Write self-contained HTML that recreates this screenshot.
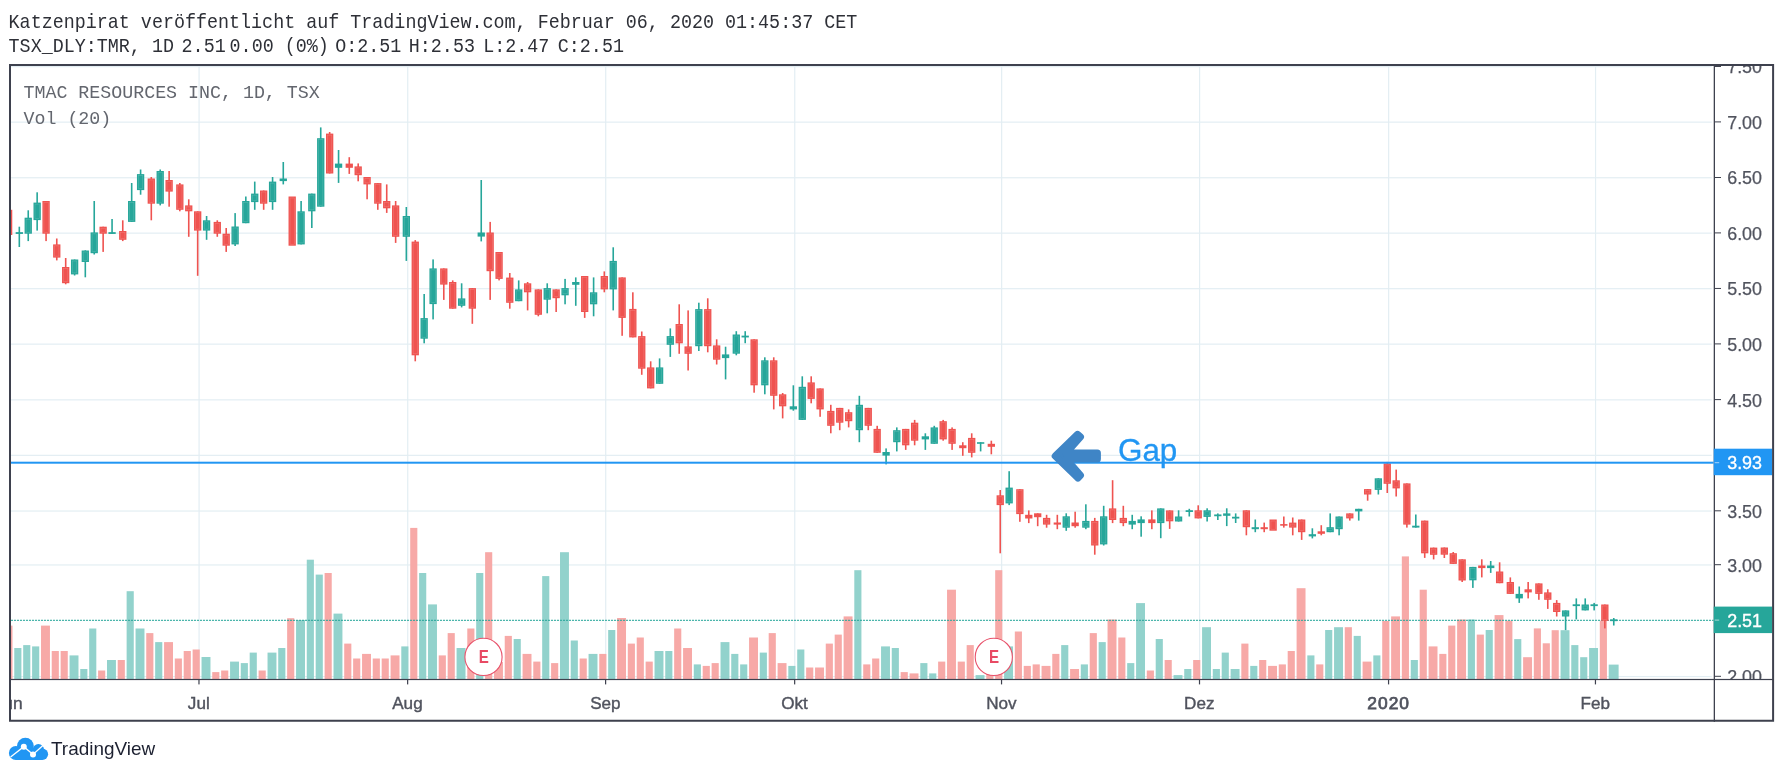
<!DOCTYPE html><html><head><meta charset="utf-8"><style>html,body{margin:0;padding:0;background:#fff}svg{will-change:transform}body{width:1783px;height:776px;position:relative;overflow:hidden;font-family:"Liberation Sans",sans-serif}</style></head><body><svg width="1783" height="776" viewBox="0 0 1783 776" style="position:absolute;left:0;top:0">
<defs><clipPath id="pane"><rect x="11" y="66" width="1702.7" height="613"/></clipPath></defs>
<g fill="#e3eef3">
<rect x="11" y="66.05" width="1700.7" height="1.2"/>
<rect x="11" y="121.55" width="1700.7" height="1.2"/>
<rect x="11" y="177.15" width="1700.7" height="1.2"/>
<rect x="11" y="232.55" width="1700.7" height="1.2"/>
<rect x="11" y="288.1" width="1700.7" height="1.2"/>
<rect x="11" y="343.55" width="1700.7" height="1.2"/>
<rect x="11" y="399.25" width="1700.7" height="1.2"/>
<rect x="11" y="454.75" width="1700.7" height="1.2"/>
<rect x="11" y="510.45" width="1700.7" height="1.2"/>
<rect x="11" y="564.35" width="1700.7" height="1.2"/>
<rect x="11" y="675.95" width="1700.7" height="1.2"/>
<rect x="198.47" y="66" width="1.2" height="613"/>
<rect x="407.14" y="66" width="1.2" height="613"/>
<rect x="605.11" y="66" width="1.2" height="613"/>
<rect x="794.16" y="66" width="1.2" height="613"/>
<rect x="1001.04" y="66" width="1.2" height="613"/>
<rect x="1199.01" y="66" width="1.2" height="613"/>
<rect x="1388.06" y="66" width="1.2" height="613"/>
<rect x="1594.95" y="66" width="1.2" height="613"/>
</g>
<g clip-path="url(#pane)">
<g fill="#92d2cc"><rect x="14.27" y="648" width="7.13" height="32"/><rect x="23.19" y="645.1" width="7.13" height="34.9"/><rect x="32.1" y="646.4" width="7.13" height="33.6"/><rect x="69.56" y="655.4" width="8.92" height="24.6"/><rect x="80.26" y="669" width="7.13" height="11"/><rect x="89.18" y="628.5" width="7.13" height="51.5"/><rect x="107.01" y="660" width="8.92" height="20"/><rect x="126.63" y="591.2" width="7.13" height="88.8"/><rect x="135.55" y="628.5" width="8.92" height="51.5"/><rect x="155.16" y="642.1" width="7.13" height="37.9"/><rect x="201.54" y="657" width="8.92" height="23"/><rect x="230.07" y="661.6" width="8.92" height="18.4"/><rect x="240.77" y="663.1" width="7.13" height="16.9"/><rect x="249.69" y="652.6" width="7.13" height="27.4"/><rect x="267.53" y="652.6" width="8.92" height="27.4"/><rect x="278.23" y="648" width="7.13" height="32"/><rect x="296.06" y="620.1" width="8.92" height="59.9"/><rect x="306.76" y="559.7" width="7.13" height="120.3"/><rect x="315.68" y="574.6" width="7.13" height="105.4"/><rect x="333.51" y="613.6" width="8.92" height="66.4"/><rect x="401.29" y="646.4" width="7.13" height="33.6"/><rect x="419.12" y="573" width="7.13" height="107"/><rect x="428.04" y="604.4" width="8.92" height="75.6"/><rect x="456.58" y="648" width="8.92" height="32"/><rect x="476.19" y="573" width="7.13" height="107"/><rect x="513.65" y="639" width="7.13" height="41"/><rect x="542.18" y="576.1" width="7.13" height="103.9"/><rect x="560.02" y="552.2" width="8.92" height="127.8"/><rect x="570.72" y="640.5" width="7.13" height="39.5"/><rect x="588.56" y="653.9" width="8.92" height="26.1"/><rect x="608.17" y="630" width="7.13" height="50"/><rect x="654.54" y="651" width="8.92" height="29"/><rect x="665.25" y="651" width="7.13" height="29"/><rect x="693.78" y="664.4" width="7.13" height="15.6"/><rect x="720.53" y="642.1" width="8.92" height="37.9"/><rect x="731.24" y="653.9" width="7.13" height="26.1"/><rect x="740.15" y="664.4" width="7.13" height="15.6"/><rect x="759.77" y="652.6" width="7.13" height="27.4"/><rect x="788.31" y="665.9" width="7.13" height="14.1"/><rect x="797.22" y="649.5" width="7.13" height="30.5"/><rect x="854.3" y="570.2" width="7.13" height="109.8"/><rect x="881.05" y="646.4" width="8.92" height="33.6"/><rect x="891.75" y="648" width="7.13" height="32"/><rect x="920.29" y="663.1" width="7.13" height="16.9"/><rect x="929.2" y="673.4" width="7.13" height="6.6"/><rect x="975.57" y="675.1" width="8.92" height="4.9"/><rect x="1004.11" y="646.4" width="8.92" height="33.6"/><rect x="1061.18" y="645.1" width="7.13" height="34.9"/><rect x="1080.8" y="664.4" width="7.13" height="15.6"/><rect x="1098.64" y="642.1" width="7.13" height="37.9"/><rect x="1127.17" y="663.1" width="7.13" height="16.9"/><rect x="1136.09" y="603.1" width="8.92" height="76.9"/><rect x="1155.71" y="639" width="7.13" height="41"/><rect x="1173.54" y="675.1" width="8.92" height="4.9"/><rect x="1184.24" y="669" width="7.13" height="11"/><rect x="1202.08" y="627.2" width="8.92" height="52.8"/><rect x="1212.78" y="669" width="7.13" height="11"/><rect x="1221.7" y="652.6" width="7.13" height="27.4"/><rect x="1230.62" y="669" width="8.92" height="11"/><rect x="1250.23" y="665.9" width="7.13" height="14.1"/><rect x="1307.31" y="655.4" width="7.13" height="24.6"/><rect x="1325.14" y="630" width="7.13" height="50"/><rect x="1334.06" y="627.2" width="8.92" height="52.8"/><rect x="1353.68" y="635.9" width="7.13" height="44.1"/><rect x="1373.3" y="655.4" width="7.13" height="24.6"/><rect x="1410.75" y="660" width="7.13" height="20"/><rect x="1467.82" y="619.5" width="7.13" height="60.5"/><rect x="1485.66" y="630" width="7.13" height="50"/><rect x="1514.19" y="639.1" width="7.13" height="40.9"/><rect x="1560.56" y="630.2" width="8.92" height="49.8"/><rect x="1571.26" y="645.1" width="7.13" height="34.9"/><rect x="1580.18" y="657.2" width="7.13" height="22.8"/><rect x="1589.1" y="648" width="8.92" height="32"/><rect x="1608.72" y="664.6" width="9.9" height="15.4"/></g>
<g fill="#f7a9a7"><rect x="3.57" y="625.6" width="8.92" height="54.4"/><rect x="41.02" y="625.6" width="8.92" height="54.4"/><rect x="51.72" y="651" width="7.13" height="29"/><rect x="60.64" y="651" width="7.13" height="29"/><rect x="98.09" y="670.5" width="7.13" height="9.5"/><rect x="117.71" y="660" width="7.13" height="20"/><rect x="146.25" y="633.1" width="7.13" height="46.9"/><rect x="164.08" y="642.1" width="8.92" height="37.9"/><rect x="174.78" y="658.5" width="7.13" height="21.5"/><rect x="183.7" y="651" width="7.13" height="29"/><rect x="192.62" y="649.5" width="7.13" height="30.5"/><rect x="212.24" y="672.1" width="7.13" height="7.9"/><rect x="221.15" y="670.5" width="7.13" height="9.5"/><rect x="258.61" y="670.5" width="7.13" height="9.5"/><rect x="287.14" y="618.2" width="7.13" height="61.8"/><rect x="324.6" y="573" width="7.13" height="107"/><rect x="344.22" y="643.6" width="7.13" height="36.4"/><rect x="353.13" y="658.5" width="7.13" height="21.5"/><rect x="362.05" y="653.9" width="8.92" height="26.1"/><rect x="372.75" y="658.5" width="7.13" height="21.5"/><rect x="381.67" y="658.5" width="7.13" height="21.5"/><rect x="390.59" y="655.4" width="8.92" height="24.6"/><rect x="410.21" y="527.9" width="7.13" height="152.1"/><rect x="438.74" y="655.4" width="7.13" height="24.6"/><rect x="447.66" y="633.1" width="7.13" height="46.9"/><rect x="467.28" y="628.5" width="7.13" height="51.5"/><rect x="485.11" y="552.2" width="7.13" height="127.8"/><rect x="494.03" y="662" width="8.92" height="18"/><rect x="504.73" y="635.9" width="7.13" height="44.1"/><rect x="522.57" y="653.9" width="8.92" height="26.1"/><rect x="533.27" y="661.6" width="7.13" height="18.4"/><rect x="551.1" y="663.1" width="7.13" height="16.9"/><rect x="579.64" y="658.5" width="7.13" height="21.5"/><rect x="599.26" y="653.9" width="7.13" height="26.1"/><rect x="617.09" y="618" width="8.92" height="62"/><rect x="627.79" y="643.6" width="7.13" height="36.4"/><rect x="636.71" y="637.5" width="7.13" height="42.5"/><rect x="645.63" y="661.6" width="7.13" height="18.4"/><rect x="674.16" y="628.5" width="7.13" height="51.5"/><rect x="683.08" y="648" width="8.92" height="32"/><rect x="702.7" y="665.9" width="7.13" height="14.1"/><rect x="711.62" y="663.1" width="7.13" height="16.9"/><rect x="749.07" y="637.5" width="8.92" height="42.5"/><rect x="768.69" y="633.1" width="7.13" height="46.9"/><rect x="777.61" y="663.1" width="8.92" height="16.9"/><rect x="806.14" y="667.5" width="7.13" height="12.5"/><rect x="815.06" y="667.5" width="8.92" height="12.5"/><rect x="825.76" y="643.6" width="7.13" height="36.4"/><rect x="834.68" y="634.6" width="7.13" height="45.4"/><rect x="843.6" y="616.4" width="8.92" height="63.6"/><rect x="863.21" y="664.4" width="7.13" height="15.6"/><rect x="872.13" y="658.5" width="7.13" height="21.5"/><rect x="900.67" y="672.1" width="7.13" height="7.9"/><rect x="909.59" y="673.4" width="8.92" height="6.6"/><rect x="938.12" y="661.6" width="7.13" height="18.4"/><rect x="947.04" y="589.7" width="8.92" height="90.3"/><rect x="957.74" y="661.6" width="7.13" height="18.4"/><rect x="966.66" y="645.1" width="7.13" height="34.9"/><rect x="986.28" y="668" width="7.13" height="12"/><rect x="995.19" y="570.2" width="7.13" height="109.8"/><rect x="1014.81" y="631.5" width="7.13" height="48.5"/><rect x="1023.73" y="665.9" width="7.13" height="14.1"/><rect x="1032.65" y="664.4" width="7.13" height="15.6"/><rect x="1041.56" y="665.9" width="8.92" height="14.1"/><rect x="1052.27" y="653.9" width="7.13" height="26.1"/><rect x="1070.1" y="669" width="8.92" height="11"/><rect x="1089.72" y="633.1" width="7.13" height="46.9"/><rect x="1107.55" y="619.5" width="8.92" height="60.5"/><rect x="1118.25" y="637.5" width="7.13" height="42.5"/><rect x="1146.79" y="670.5" width="7.13" height="9.5"/><rect x="1164.63" y="660" width="7.13" height="20"/><rect x="1193.16" y="660" width="7.13" height="20"/><rect x="1241.32" y="643.6" width="7.13" height="36.4"/><rect x="1259.15" y="660" width="7.13" height="20"/><rect x="1268.07" y="665.9" width="8.92" height="14.1"/><rect x="1278.77" y="664.4" width="7.13" height="15.6"/><rect x="1287.69" y="651" width="7.13" height="29"/><rect x="1296.6" y="588.2" width="8.92" height="91.8"/><rect x="1316.22" y="664.4" width="7.13" height="15.6"/><rect x="1344.76" y="627.2" width="7.13" height="52.8"/><rect x="1362.59" y="661.6" width="8.92" height="18.4"/><rect x="1382.21" y="621" width="7.13" height="59"/><rect x="1391.13" y="616.4" width="8.92" height="63.6"/><rect x="1401.83" y="556.4" width="7.13" height="123.6"/><rect x="1419.67" y="589.7" width="7.13" height="90.3"/><rect x="1428.58" y="646.4" width="8.92" height="33.6"/><rect x="1439.28" y="653.9" width="7.13" height="26.1"/><rect x="1448.2" y="625.6" width="7.13" height="54.4"/><rect x="1457.12" y="619.5" width="8.92" height="60.5"/><rect x="1476.74" y="634.6" width="7.13" height="45.4"/><rect x="1494.57" y="615.1" width="8.92" height="64.9"/><rect x="1505.27" y="620.7" width="7.13" height="59.3"/><rect x="1523.11" y="657.2" width="8.92" height="22.8"/><rect x="1533.81" y="628.4" width="7.13" height="51.6"/><rect x="1542.73" y="643.3" width="7.13" height="36.7"/><rect x="1551.64" y="630.2" width="7.13" height="49.8"/><rect x="1599.8" y="620.7" width="7.13" height="59.3"/></g>
<line x1="11" x2="1713.7" y1="620.35" y2="620.35" stroke="#26a69a" stroke-width="1.45" stroke-dasharray="2.05 0.95" opacity="0.82"/>
<g fill="#26a69a"><rect x="18.52" y="226.7" width="1.6" height="20.3"/><rect x="15.67" y="232.15" width="7.3" height="1.8"/><rect x="27.44" y="210.3" width="1.6" height="30.8"/><rect x="24.59" y="217.7" width="7.3" height="16"/><rect x="36.35" y="192.3" width="1.6" height="38.3"/><rect x="33.5" y="202.6" width="7.3" height="17.5"/><rect x="73.81" y="259.5" width="1.6" height="16"/><rect x="70.96" y="259.5" width="7.3" height="14.9"/><rect x="84.51" y="250.3" width="1.6" height="27"/><rect x="81.66" y="250.5" width="7.3" height="11.5"/><rect x="93.43" y="201" width="1.6" height="53.5"/><rect x="90.58" y="232.4" width="7.3" height="20.8"/><rect x="111.26" y="219" width="1.6" height="14.7"/><rect x="108.41" y="232.15" width="7.3" height="1.8"/><rect x="130.88" y="183" width="1.6" height="38.9"/><rect x="128.03" y="201" width="7.3" height="20.9"/><rect x="139.8" y="169.5" width="1.6" height="25.2"/><rect x="136.95" y="174.1" width="7.3" height="16"/><rect x="159.41" y="169.5" width="1.6" height="35.9"/><rect x="156.56" y="171" width="7.3" height="32.7"/><rect x="205.79" y="216" width="1.6" height="23.8"/><rect x="202.94" y="220.3" width="7.3" height="10.3"/><rect x="234.32" y="213.1" width="1.6" height="32.9"/><rect x="231.47" y="226.5" width="7.3" height="17.9"/><rect x="245.02" y="196.5" width="1.6" height="26.7"/><rect x="242.17" y="201" width="7.3" height="22.2"/><rect x="253.94" y="181.6" width="1.6" height="28.2"/><rect x="251.09" y="193.6" width="7.3" height="8.5"/><rect x="271.78" y="177" width="1.6" height="32.8"/><rect x="268.93" y="181.6" width="7.3" height="20.5"/><rect x="282.48" y="162" width="1.6" height="22.4"/><rect x="279.63" y="178.5" width="7.3" height="2.6"/><rect x="300.31" y="201" width="1.6" height="43.4"/><rect x="297.46" y="211.3" width="7.3" height="33.1"/><rect x="311.01" y="193.6" width="1.6" height="34.4"/><rect x="308.16" y="193.6" width="7.3" height="17.7"/><rect x="319.93" y="127.4" width="1.6" height="79.3"/><rect x="317.08" y="138.2" width="7.3" height="68.5"/><rect x="337.76" y="150" width="1.6" height="32.9"/><rect x="334.92" y="163.6" width="7.3" height="4.2"/><rect x="405.54" y="207" width="1.6" height="53.9"/><rect x="402.69" y="216" width="7.3" height="20.8"/><rect x="423.37" y="294" width="1.6" height="49.3"/><rect x="420.52" y="318.1" width="7.3" height="20.6"/><rect x="432.29" y="259.4" width="1.6" height="60"/><rect x="429.44" y="268.4" width="7.3" height="35.7"/><rect x="460.83" y="283.3" width="1.6" height="24.1"/><rect x="457.98" y="298.4" width="7.3" height="7.4"/><rect x="480.44" y="180" width="1.6" height="61.4"/><rect x="477.6" y="232.5" width="7.3" height="4.1"/><rect x="517.9" y="280.4" width="1.6" height="20.8"/><rect x="515.05" y="289.4" width="7.3" height="11.8"/><rect x="546.43" y="283.3" width="1.6" height="30"/><rect x="543.58" y="288.1" width="7.3" height="11.6"/><rect x="564.27" y="278.9" width="1.6" height="25.4"/><rect x="561.42" y="288.1" width="7.3" height="7.2"/><rect x="574.97" y="277.4" width="1.6" height="28.4"/><rect x="572.12" y="282" width="7.3" height="2.8"/><rect x="592.81" y="277.4" width="1.6" height="38.9"/><rect x="589.96" y="292.3" width="7.3" height="12"/><rect x="612.42" y="247.3" width="1.6" height="63.1"/><rect x="609.57" y="260.9" width="7.3" height="28.5"/><rect x="658.8" y="358.4" width="1.6" height="25.4"/><rect x="655.95" y="367.4" width="7.3" height="16.4"/><rect x="669.5" y="328.4" width="1.6" height="28.5"/><rect x="666.65" y="336.1" width="7.3" height="8.7"/><rect x="698.03" y="302.7" width="1.6" height="48.3"/><rect x="695.18" y="309.1" width="7.3" height="37.1"/><rect x="724.78" y="346.7" width="1.6" height="32.7"/><rect x="721.93" y="354.4" width="7.3" height="3.7"/><rect x="735.49" y="331.2" width="1.6" height="24.1"/><rect x="732.64" y="334.5" width="7.3" height="19.2"/><rect x="744.4" y="331.2" width="1.6" height="12"/><rect x="741.55" y="335.65" width="7.3" height="1.8"/><rect x="764.02" y="357.3" width="1.6" height="37"/><rect x="761.17" y="360.3" width="7.3" height="25"/><rect x="792.56" y="385.3" width="1.6" height="25.4"/><rect x="789.71" y="406.3" width="7.3" height="3.1"/><rect x="801.48" y="376.3" width="1.6" height="43.6"/><rect x="798.63" y="386.8" width="7.3" height="33.1"/><rect x="858.55" y="395.8" width="1.6" height="46.4"/><rect x="855.7" y="404.8" width="7.3" height="25.4"/><rect x="885.3" y="448.4" width="1.6" height="16"/><rect x="882.45" y="452" width="7.3" height="3.6"/><rect x="896" y="427.4" width="1.6" height="24"/><rect x="893.15" y="430.2" width="7.3" height="12"/><rect x="924.54" y="433.3" width="1.6" height="16.6"/><rect x="921.69" y="436.3" width="7.3" height="3.1"/><rect x="933.45" y="425.8" width="1.6" height="18"/><rect x="930.6" y="427.4" width="7.3" height="16.4"/><rect x="979.83" y="442.2" width="1.6" height="9.2"/><rect x="976.98" y="442.2" width="7.3" height="1.6"/><rect x="1008.36" y="471.2" width="1.6" height="33.9"/><rect x="1005.51" y="487.6" width="7.3" height="15.8"/><rect x="1065.43" y="513.3" width="1.6" height="17.5"/><rect x="1062.58" y="516.3" width="7.3" height="11.4"/><rect x="1085.05" y="504.3" width="1.6" height="24.9"/><rect x="1082.2" y="520.9" width="7.3" height="6.8"/><rect x="1102.89" y="505.8" width="1.6" height="39.7"/><rect x="1100.04" y="516.3" width="7.3" height="28.1"/><rect x="1131.42" y="514.8" width="1.6" height="14.4"/><rect x="1128.57" y="520.9" width="7.3" height="3.7"/><rect x="1140.34" y="516.3" width="1.6" height="20.4"/><rect x="1137.49" y="519.4" width="7.3" height="3.7"/><rect x="1159.96" y="508.4" width="1.6" height="29.8"/><rect x="1157.11" y="508.4" width="7.3" height="14.7"/><rect x="1177.79" y="510.3" width="1.6" height="11.2"/><rect x="1174.94" y="516.5" width="7.3" height="5"/><rect x="1188.49" y="508.8" width="1.6" height="7.7"/><rect x="1185.64" y="510.2" width="7.3" height="1.8"/><rect x="1206.33" y="508.3" width="1.6" height="13.2"/><rect x="1203.48" y="510.3" width="7.3" height="6.6"/><rect x="1217.03" y="513.4" width="1.6" height="6.6"/><rect x="1214.18" y="514.45" width="7.3" height="1.8"/><rect x="1225.95" y="508.3" width="1.6" height="17.8"/><rect x="1223.1" y="513.4" width="7.3" height="2.4"/><rect x="1234.87" y="513.4" width="1.6" height="9.6"/><rect x="1232.02" y="516.75" width="7.3" height="1.8"/><rect x="1254.48" y="519.5" width="1.6" height="12.7"/><rect x="1251.63" y="527.2" width="7.3" height="2"/><rect x="1311.56" y="528.3" width="1.6" height="10.1"/><rect x="1308.71" y="534.2" width="7.3" height="2.2"/><rect x="1329.39" y="513.4" width="1.6" height="18.8"/><rect x="1326.54" y="527.2" width="7.3" height="5"/><rect x="1338.31" y="516.5" width="1.6" height="18.8"/><rect x="1335.46" y="516.5" width="7.3" height="12.7"/><rect x="1357.93" y="508.8" width="1.6" height="11.8"/><rect x="1355.08" y="508.8" width="7.3" height="2.6"/><rect x="1377.55" y="478.3" width="1.6" height="16.2"/><rect x="1374.7" y="478.3" width="7.3" height="11.6"/><rect x="1415" y="514.5" width="1.6" height="13.1"/><rect x="1412.15" y="525.7" width="7.3" height="1.9"/><rect x="1472.07" y="566.9" width="1.6" height="21"/><rect x="1469.22" y="566.9" width="7.3" height="13.4"/><rect x="1489.91" y="561" width="1.6" height="11.9"/><rect x="1487.06" y="565.5" width="7.3" height="2.6"/><rect x="1518.44" y="586.5" width="1.6" height="16.4"/><rect x="1515.59" y="593.9" width="7.3" height="4.5"/><rect x="1564.81" y="610.4" width="1.6" height="19.7"/><rect x="1561.96" y="610.4" width="7.3" height="6.1"/><rect x="1575.51" y="598.4" width="1.6" height="21"/><rect x="1572.66" y="604.3" width="7.3" height="1.8"/><rect x="1584.43" y="598.4" width="1.6" height="12"/><rect x="1581.58" y="604.5" width="7.3" height="5.9"/><rect x="1593.35" y="602.9" width="1.6" height="7.5"/><rect x="1590.5" y="604.3" width="7.3" height="1.8"/><rect x="1612.97" y="618" width="1.6" height="7.5"/><rect x="1610.12" y="619.35" width="7.3" height="1.8"/></g>
<g fill="#ef5350"><rect x="4.97" y="209.8" width="7.3" height="25.2"/><rect x="45.27" y="201" width="1.6" height="40.1"/><rect x="42.42" y="201" width="7.3" height="32.7"/><rect x="55.97" y="238.5" width="1.6" height="21.9"/><rect x="53.12" y="244.4" width="7.3" height="13.2"/><rect x="64.89" y="258" width="1.6" height="26.3"/><rect x="62.04" y="267" width="7.3" height="16.2"/><rect x="102.34" y="226.7" width="1.6" height="25.2"/><rect x="99.49" y="226.7" width="7.3" height="7"/><rect x="121.96" y="220.3" width="1.6" height="20.8"/><rect x="119.11" y="231" width="7.3" height="8.8"/><rect x="150.5" y="177" width="1.6" height="43.3"/><rect x="147.65" y="178.5" width="7.3" height="25.2"/><rect x="168.33" y="171" width="1.6" height="35.7"/><rect x="165.48" y="180" width="7.3" height="11.6"/><rect x="179.03" y="183" width="1.6" height="28.3"/><rect x="176.18" y="184.4" width="7.3" height="25.4"/><rect x="187.95" y="199.3" width="1.6" height="37.5"/><rect x="185.1" y="205.4" width="7.3" height="5.9"/><rect x="196.87" y="211.3" width="1.6" height="64.5"/><rect x="194.02" y="211.3" width="7.3" height="19.3"/><rect x="216.49" y="220.3" width="1.6" height="16.5"/><rect x="213.64" y="221.9" width="7.3" height="11.8"/><rect x="225.4" y="228" width="1.6" height="23.9"/><rect x="222.55" y="233.7" width="7.3" height="12"/><rect x="262.86" y="190.5" width="1.6" height="19.3"/><rect x="260.01" y="190.5" width="7.3" height="13.2"/><rect x="288.54" y="196.5" width="7.3" height="49.2"/><rect x="328.85" y="132" width="1.6" height="41.5"/><rect x="326" y="133.6" width="7.3" height="39.9"/><rect x="348.47" y="157.2" width="1.6" height="16.7"/><rect x="345.62" y="163.6" width="7.3" height="4.2"/><rect x="357.38" y="163.4" width="1.6" height="17.9"/><rect x="354.53" y="166.4" width="7.3" height="8.8"/><rect x="366.3" y="177" width="1.6" height="22.3"/><rect x="363.45" y="177" width="7.3" height="7.4"/><rect x="377" y="183.1" width="1.6" height="26.7"/><rect x="374.15" y="183.1" width="7.3" height="20.6"/><rect x="385.92" y="184.4" width="1.6" height="28.5"/><rect x="383.07" y="201" width="7.3" height="7.3"/><rect x="394.84" y="201" width="1.6" height="41.9"/><rect x="391.99" y="205.4" width="7.3" height="31.4"/><rect x="414.46" y="240.1" width="1.6" height="121.2"/><rect x="411.61" y="241.6" width="7.3" height="113.7"/><rect x="442.99" y="268.4" width="1.6" height="31.5"/><rect x="440.14" y="268.4" width="7.3" height="16.2"/><rect x="451.91" y="280.4" width="1.6" height="28.3"/><rect x="449.06" y="282" width="7.3" height="26.7"/><rect x="471.53" y="288.1" width="1.6" height="35.7"/><rect x="468.68" y="288.1" width="7.3" height="20.6"/><rect x="489.36" y="221.9" width="1.6" height="78"/><rect x="486.51" y="232.5" width="7.3" height="38.7"/><rect x="498.28" y="252" width="1.6" height="28.4"/><rect x="495.43" y="252" width="7.3" height="26.9"/><rect x="508.98" y="273" width="1.6" height="35.7"/><rect x="506.13" y="277.6" width="7.3" height="25.2"/><rect x="526.82" y="282" width="1.6" height="28.4"/><rect x="523.97" y="283.3" width="7.3" height="9"/><rect x="537.52" y="289.4" width="1.6" height="26.9"/><rect x="534.67" y="289.4" width="7.3" height="25.4"/><rect x="555.35" y="289.4" width="1.6" height="22.6"/><rect x="552.5" y="289.4" width="7.3" height="8.8"/><rect x="583.89" y="276" width="1.6" height="41.9"/><rect x="581.04" y="276" width="7.3" height="36"/><rect x="603.51" y="271.4" width="1.6" height="20.9"/><rect x="600.66" y="276" width="7.3" height="13.4"/><rect x="621.34" y="277.4" width="1.6" height="58.4"/><rect x="618.49" y="277.4" width="7.3" height="40.5"/><rect x="632.04" y="292.3" width="1.6" height="45.1"/><rect x="629.19" y="308.9" width="7.3" height="28.5"/><rect x="640.96" y="331.5" width="1.6" height="43.3"/><rect x="638.11" y="336.1" width="7.3" height="32.6"/><rect x="649.88" y="361.3" width="1.6" height="27.1"/><rect x="647.03" y="367.4" width="7.3" height="21"/><rect x="678.41" y="304.3" width="1.6" height="49.5"/><rect x="675.56" y="324" width="7.3" height="19.3"/><rect x="687.33" y="310.4" width="1.6" height="60.1"/><rect x="684.48" y="346.4" width="7.3" height="7.4"/><rect x="706.95" y="298.3" width="1.6" height="54"/><rect x="704.1" y="309.1" width="7.3" height="37.1"/><rect x="715.87" y="339.3" width="1.6" height="25.2"/><rect x="713.02" y="345.4" width="7.3" height="14.3"/><rect x="753.32" y="339.3" width="1.6" height="53.4"/><rect x="750.47" y="339.3" width="7.3" height="46"/><rect x="772.94" y="357.3" width="1.6" height="52.1"/><rect x="770.09" y="360.3" width="7.3" height="35.5"/><rect x="781.86" y="393" width="1.6" height="25.4"/><rect x="779.01" y="394.3" width="7.3" height="12"/><rect x="810.39" y="376.3" width="1.6" height="27"/><rect x="807.54" y="382.4" width="7.3" height="16.5"/><rect x="819.31" y="388.4" width="1.6" height="28.4"/><rect x="816.46" y="388.4" width="7.3" height="21"/><rect x="830.01" y="404.8" width="1.6" height="28.5"/><rect x="827.16" y="410.9" width="7.3" height="14.9"/><rect x="838.93" y="407.9" width="1.6" height="22.3"/><rect x="836.08" y="407.9" width="7.3" height="14.8"/><rect x="847.85" y="409.4" width="1.6" height="18"/><rect x="845" y="412.2" width="7.3" height="9"/><rect x="867.46" y="407.9" width="1.6" height="22.3"/><rect x="864.61" y="407.9" width="7.3" height="17.9"/><rect x="876.38" y="425.8" width="1.6" height="27"/><rect x="873.53" y="428.9" width="7.3" height="23.9"/><rect x="904.92" y="428.9" width="1.6" height="21"/><rect x="902.07" y="428.9" width="7.3" height="16.4"/><rect x="913.84" y="419.9" width="1.6" height="25.4"/><rect x="910.99" y="422.7" width="7.3" height="18"/><rect x="942.37" y="419.9" width="1.6" height="20.8"/><rect x="939.52" y="421.2" width="7.3" height="18.2"/><rect x="951.29" y="427.4" width="1.6" height="22.5"/><rect x="948.44" y="428.9" width="7.3" height="14.9"/><rect x="961.99" y="442.2" width="1.6" height="13.6"/><rect x="959.14" y="445.3" width="7.3" height="2.9"/><rect x="970.91" y="433.3" width="1.6" height="24.1"/><rect x="968.06" y="437.9" width="7.3" height="14.9"/><rect x="990.53" y="440.7" width="1.6" height="13.6"/><rect x="987.68" y="443.8" width="7.3" height="3"/><rect x="999.44" y="490" width="1.6" height="63.3"/><rect x="996.59" y="495.3" width="7.3" height="9.8"/><rect x="1019.06" y="489.2" width="1.6" height="32.6"/><rect x="1016.21" y="489.2" width="7.3" height="24.9"/><rect x="1027.98" y="510.4" width="1.6" height="12.7"/><rect x="1025.13" y="514.8" width="7.3" height="3.7"/><rect x="1036.9" y="513.3" width="1.6" height="12.9"/><rect x="1034.05" y="513.3" width="7.3" height="3.9"/><rect x="1045.81" y="514.8" width="1.6" height="12.9"/><rect x="1042.96" y="517.9" width="7.3" height="6.7"/><rect x="1056.52" y="514.8" width="1.6" height="14.4"/><rect x="1053.67" y="522.5" width="7.3" height="2.1"/><rect x="1074.35" y="511.7" width="1.6" height="16"/><rect x="1071.5" y="522.5" width="7.3" height="3.7"/><rect x="1093.97" y="517.9" width="1.6" height="36.8"/><rect x="1091.12" y="520.9" width="7.3" height="24.6"/><rect x="1111.8" y="480.2" width="1.6" height="42.9"/><rect x="1108.95" y="508.4" width="7.3" height="11.6"/><rect x="1122.51" y="505.8" width="1.6" height="20.4"/><rect x="1119.65" y="517.9" width="7.3" height="5.2"/><rect x="1151.04" y="510.4" width="1.6" height="18.8"/><rect x="1148.19" y="519.4" width="7.3" height="3.7"/><rect x="1168.88" y="510.4" width="1.6" height="18.5"/><rect x="1166.03" y="510.4" width="7.3" height="10.9"/><rect x="1197.41" y="505.3" width="1.6" height="13.1"/><rect x="1194.56" y="510.3" width="7.3" height="8.1"/><rect x="1245.57" y="510.3" width="1.6" height="25"/><rect x="1242.72" y="510.3" width="7.3" height="16.9"/><rect x="1263.4" y="522.6" width="1.6" height="9.6"/><rect x="1260.55" y="527.2" width="7.3" height="2"/><rect x="1269.47" y="519.5" width="7.3" height="11.2"/><rect x="1283.02" y="516.5" width="1.6" height="11.1"/><rect x="1280.17" y="524.1" width="7.3" height="1.6"/><rect x="1291.94" y="517.5" width="1.6" height="17.8"/><rect x="1289.09" y="522.6" width="7.3" height="5"/><rect x="1300.86" y="519.5" width="1.6" height="20.4"/><rect x="1298.01" y="519.5" width="7.3" height="12.7"/><rect x="1320.47" y="525.2" width="1.6" height="10.1"/><rect x="1317.62" y="531.3" width="7.3" height="2.5"/><rect x="1349.01" y="513.4" width="1.6" height="7.2"/><rect x="1346.16" y="513.4" width="7.3" height="5"/><rect x="1366.84" y="489.1" width="1.6" height="11.6"/><rect x="1363.99" y="489.1" width="7.3" height="5.4"/><rect x="1386.46" y="461.9" width="1.6" height="31.1"/><rect x="1383.61" y="463.4" width="7.3" height="20.4"/><rect x="1395.38" y="469.6" width="1.6" height="26.9"/><rect x="1392.53" y="480.3" width="7.3" height="8.1"/><rect x="1406.08" y="483.4" width="1.6" height="44.2"/><rect x="1403.23" y="483.4" width="7.3" height="41.2"/><rect x="1423.92" y="520.6" width="1.6" height="37.3"/><rect x="1421.07" y="520.6" width="7.3" height="32.7"/><rect x="1432.83" y="547.6" width="1.6" height="11.8"/><rect x="1429.98" y="547.6" width="7.3" height="7.2"/><rect x="1443.54" y="547.5" width="1.6" height="10.5"/><rect x="1440.68" y="547.5" width="7.3" height="7.2"/><rect x="1452.45" y="552" width="1.6" height="11.9"/><rect x="1449.6" y="553.2" width="7.3" height="10.7"/><rect x="1461.37" y="559.3" width="1.6" height="22.7"/><rect x="1458.52" y="559.3" width="7.3" height="21.2"/><rect x="1480.99" y="559.3" width="1.6" height="18.1"/><rect x="1478.14" y="565.5" width="7.3" height="2.6"/><rect x="1498.82" y="562.3" width="1.6" height="20.9"/><rect x="1495.97" y="571.5" width="7.3" height="11.7"/><rect x="1509.52" y="577.4" width="1.6" height="16.5"/><rect x="1506.67" y="582" width="7.3" height="11.9"/><rect x="1527.36" y="582" width="1.6" height="16.4"/><rect x="1524.51" y="589.3" width="7.3" height="3.1"/><rect x="1538.06" y="583.4" width="1.6" height="16.4"/><rect x="1535.21" y="583.4" width="7.3" height="10.5"/><rect x="1546.98" y="589.3" width="1.6" height="19.6"/><rect x="1544.13" y="592.4" width="7.3" height="7.4"/><rect x="1555.9" y="600.1" width="1.6" height="16.4"/><rect x="1553.05" y="602.9" width="7.3" height="9.1"/><rect x="1604.05" y="604.5" width="1.6" height="23.9"/><rect x="1601.2" y="604.5" width="7.3" height="16.3"/></g>
<g fill="none" stroke="#fff" stroke-opacity="0.24" stroke-width="0.5"><rect x="6.47" y="211.3" width="4.3" height="22.2"/><rect x="26.09" y="219.2" width="4.3" height="13"/><rect x="35" y="204.1" width="4.3" height="14.5"/><rect x="43.92" y="202.5" width="4.3" height="29.7"/><rect x="54.62" y="245.9" width="4.3" height="10.2"/><rect x="63.54" y="268.5" width="4.3" height="13.2"/><rect x="72.46" y="261" width="4.3" height="11.9"/><rect x="83.16" y="252" width="4.3" height="8.5"/><rect x="92.08" y="233.9" width="4.3" height="17.8"/><rect x="100.99" y="228.2" width="4.3" height="4"/><rect x="120.61" y="232.5" width="4.3" height="5.8"/><rect x="129.53" y="202.5" width="4.3" height="17.9"/><rect x="138.45" y="175.6" width="4.3" height="13"/><rect x="149.15" y="180" width="4.3" height="22.2"/><rect x="158.06" y="172.5" width="4.3" height="29.7"/><rect x="166.98" y="181.5" width="4.3" height="8.6"/><rect x="177.68" y="185.9" width="4.3" height="22.4"/><rect x="186.6" y="206.9" width="4.3" height="2.9"/><rect x="195.52" y="212.8" width="4.3" height="16.3"/><rect x="204.44" y="221.8" width="4.3" height="7.3"/><rect x="215.14" y="223.4" width="4.3" height="8.8"/><rect x="224.05" y="235.2" width="4.3" height="9"/><rect x="232.97" y="228" width="4.3" height="14.9"/><rect x="243.67" y="202.5" width="4.3" height="19.2"/><rect x="252.59" y="195.1" width="4.3" height="5.5"/><rect x="261.51" y="192" width="4.3" height="10.2"/><rect x="270.43" y="183.1" width="4.3" height="17.5"/><rect x="290.04" y="198" width="4.3" height="46.2"/><rect x="298.96" y="212.8" width="4.3" height="30.1"/><rect x="309.66" y="195.1" width="4.3" height="14.7"/><rect x="318.58" y="139.7" width="4.3" height="65.5"/><rect x="327.5" y="135.1" width="4.3" height="36.9"/><rect x="356.03" y="167.9" width="4.3" height="5.8"/><rect x="364.95" y="178.5" width="4.3" height="4.4"/><rect x="375.65" y="184.6" width="4.3" height="17.6"/><rect x="384.57" y="202.5" width="4.3" height="4.3"/><rect x="393.49" y="206.9" width="4.3" height="28.4"/><rect x="404.19" y="217.5" width="4.3" height="17.8"/><rect x="413.11" y="243.1" width="4.3" height="110.7"/><rect x="422.02" y="319.6" width="4.3" height="17.6"/><rect x="430.94" y="269.9" width="4.3" height="32.7"/><rect x="441.64" y="269.9" width="4.3" height="13.2"/><rect x="450.56" y="283.5" width="4.3" height="23.7"/><rect x="459.48" y="299.9" width="4.3" height="4.4"/><rect x="470.18" y="289.6" width="4.3" height="17.6"/><rect x="488.01" y="234" width="4.3" height="35.7"/><rect x="496.93" y="253.5" width="4.3" height="23.9"/><rect x="507.63" y="279.1" width="4.3" height="22.2"/><rect x="516.55" y="290.9" width="4.3" height="8.8"/><rect x="525.47" y="284.8" width="4.3" height="6"/><rect x="536.17" y="290.9" width="4.3" height="22.4"/><rect x="545.08" y="289.6" width="4.3" height="8.6"/><rect x="554" y="290.9" width="4.3" height="5.8"/><rect x="562.92" y="289.6" width="4.3" height="4.2"/><rect x="582.54" y="277.5" width="4.3" height="33"/><rect x="591.46" y="293.8" width="4.3" height="9"/><rect x="602.16" y="277.5" width="4.3" height="10.4"/><rect x="611.07" y="262.4" width="4.3" height="25.5"/><rect x="619.99" y="278.9" width="4.3" height="37.5"/><rect x="630.69" y="310.4" width="4.3" height="25.5"/><rect x="639.61" y="337.6" width="4.3" height="29.6"/><rect x="648.53" y="368.9" width="4.3" height="18"/><rect x="657.45" y="368.9" width="4.3" height="13.4"/><rect x="668.15" y="337.6" width="4.3" height="5.7"/><rect x="677.06" y="325.5" width="4.3" height="16.3"/><rect x="685.98" y="347.9" width="4.3" height="4.4"/><rect x="696.68" y="310.6" width="4.3" height="34.1"/><rect x="705.6" y="310.6" width="4.3" height="34.1"/><rect x="714.52" y="346.9" width="4.3" height="11.3"/><rect x="734.14" y="336" width="4.3" height="16.2"/><rect x="751.97" y="340.8" width="4.3" height="43"/><rect x="762.67" y="361.8" width="4.3" height="22"/><rect x="771.59" y="361.8" width="4.3" height="32.5"/><rect x="780.51" y="395.8" width="4.3" height="9"/><rect x="800.13" y="388.3" width="4.3" height="30.1"/><rect x="809.04" y="383.9" width="4.3" height="13.5"/><rect x="817.96" y="389.9" width="4.3" height="18"/><rect x="828.66" y="412.4" width="4.3" height="11.9"/><rect x="837.58" y="409.4" width="4.3" height="11.8"/><rect x="846.5" y="413.7" width="4.3" height="6"/><rect x="857.2" y="406.3" width="4.3" height="22.4"/><rect x="866.11" y="409.4" width="4.3" height="14.9"/><rect x="875.03" y="430.4" width="4.3" height="20.9"/><rect x="894.65" y="431.7" width="4.3" height="9"/><rect x="903.57" y="430.4" width="4.3" height="13.4"/><rect x="912.49" y="424.2" width="4.3" height="15"/><rect x="932.1" y="428.9" width="4.3" height="13.4"/><rect x="941.02" y="422.7" width="4.3" height="15.2"/><rect x="949.94" y="430.4" width="4.3" height="11.9"/><rect x="969.56" y="439.4" width="4.3" height="11.9"/><rect x="998.09" y="496.8" width="4.3" height="6.8"/><rect x="1007.01" y="489.1" width="4.3" height="12.8"/><rect x="1017.71" y="490.7" width="4.3" height="21.9"/><rect x="1044.46" y="519.4" width="4.3" height="3.7"/><rect x="1064.08" y="517.8" width="4.3" height="8.4"/><rect x="1083.7" y="522.4" width="4.3" height="3.8"/><rect x="1092.62" y="522.4" width="4.3" height="21.6"/><rect x="1101.54" y="517.8" width="4.3" height="25.1"/><rect x="1110.45" y="509.9" width="4.3" height="8.6"/><rect x="1121.15" y="519.4" width="4.3" height="2.2"/><rect x="1158.61" y="509.9" width="4.3" height="11.7"/><rect x="1167.53" y="511.9" width="4.3" height="7.9"/><rect x="1176.44" y="518" width="4.3" height="2"/><rect x="1196.06" y="511.8" width="4.3" height="5.1"/><rect x="1204.98" y="511.8" width="4.3" height="3.6"/><rect x="1244.22" y="511.8" width="4.3" height="13.9"/><rect x="1270.97" y="521" width="4.3" height="8.2"/><rect x="1290.59" y="524.1" width="4.3" height="2"/><rect x="1299.51" y="521" width="4.3" height="9.7"/><rect x="1328.04" y="528.7" width="4.3" height="2"/><rect x="1336.96" y="518" width="4.3" height="9.7"/><rect x="1347.66" y="514.9" width="4.3" height="2"/><rect x="1365.49" y="490.6" width="4.3" height="2.4"/><rect x="1376.2" y="479.8" width="4.3" height="8.6"/><rect x="1385.11" y="464.9" width="4.3" height="17.4"/><rect x="1394.03" y="481.8" width="4.3" height="5.1"/><rect x="1404.73" y="484.9" width="4.3" height="38.2"/><rect x="1422.57" y="522.1" width="4.3" height="29.7"/><rect x="1431.48" y="549.1" width="4.3" height="4.2"/><rect x="1442.18" y="549" width="4.3" height="4.2"/><rect x="1451.1" y="554.7" width="4.3" height="7.7"/><rect x="1460.02" y="560.8" width="4.3" height="18.2"/><rect x="1470.72" y="568.4" width="4.3" height="10.4"/><rect x="1497.47" y="573" width="4.3" height="8.7"/><rect x="1508.17" y="583.5" width="4.3" height="8.9"/><rect x="1536.71" y="584.9" width="4.3" height="7.5"/><rect x="1545.63" y="593.9" width="4.3" height="4.4"/><rect x="1554.55" y="604.4" width="4.3" height="6.1"/><rect x="1563.46" y="611.9" width="4.3" height="3.1"/><rect x="1583.08" y="606" width="4.3" height="2.9"/><rect x="1602.7" y="606" width="4.3" height="13.3"/></g>
<rect x="11" y="461.7" width="1702.7" height="2" fill="#2196f3"/>
<path d="M1055.2 456.1 L1077.6 434.3 L1080.5 436.9 L1066.1 453.1 L1097.4 453.1 L1097.4 458.9 L1066.1 458.9 L1080.5 475.3 L1077.9 478.1 Z" fill="#3f85c6" stroke="#3f85c6" stroke-width="7" stroke-linejoin="round"/>
<text x="1118" y="460.6" font-family="Liberation Sans, sans-serif" font-size="31.4" fill="#2196f3" stroke="#2196f3" stroke-width="0.3">Gap</text>
<circle cx="483.5" cy="656.9" r="18.6" fill="#fff" stroke="#e8526b" stroke-width="1.1"/>
<text transform="translate(483.7 662.9) scale(0.84 1)" text-anchor="middle" font-family="Liberation Sans, sans-serif" font-weight="bold" font-size="18" fill="#e84a64">E</text>
<circle cx="993.8" cy="656.9" r="18.6" fill="#fff" stroke="#e8526b" stroke-width="1.1"/>
<text transform="translate(994 662.9) scale(0.84 1)" text-anchor="middle" font-family="Liberation Sans, sans-serif" font-weight="bold" font-size="18" fill="#e84a64">E</text>
</g>
<g font-family="Liberation Mono, monospace" font-size="18.3" fill="#63666e">
<text x="23.5" y="98.4">TMAC RESOURCES INC, 1D, TSX</text>
<text x="23.5" y="123.8">Vol (20)</text>
</g>
<g fill="#3e414e">
<rect x="1713.7" y="66" width="1.3" height="655.8"/>
<rect x="11" y="678.9" width="1762.1" height="1.2"/>
<rect x="1715" y="66" width="6" height="1"/>
<rect x="1715" y="121.4" width="6" height="1"/>
<rect x="1715" y="177" width="6" height="1"/>
<rect x="1715" y="232.4" width="6" height="1"/>
<rect x="1715" y="287.95" width="6" height="1"/>
<rect x="1715" y="343.4" width="6" height="1"/>
<rect x="1715" y="399.1" width="6" height="1"/>
<rect x="1715" y="510.3" width="6" height="1"/>
<rect x="1715" y="564.2" width="6" height="1"/>
<rect x="1715" y="675.8" width="6" height="1"/>
<rect x="198.37" y="680" width="1.2" height="4.4"/>
<rect x="407.04" y="680" width="1.2" height="4.4"/>
<rect x="605.01" y="680" width="1.2" height="4.4"/>
<rect x="794.06" y="680" width="1.2" height="4.4"/>
<rect x="1000.94" y="680" width="1.2" height="4.4"/>
<rect x="1198.91" y="680" width="1.2" height="4.4"/>
<rect x="1387.96" y="680" width="1.2" height="4.4"/>
<rect x="1594.85" y="680" width="1.2" height="4.4"/>
</g>
<g font-family="Liberation Sans, sans-serif" font-size="17.9" fill="#50535e" stroke="#50535e" stroke-width="0.25">
<clipPath id="ax"><rect x="1713.7" y="66" width="60" height="613"/></clipPath>
<g clip-path="url(#ax)">
<text x="1727.2" y="73.35">7.50</text>
<text x="1727.2" y="128.85">7.00</text>
<text x="1727.2" y="184.45">6.50</text>
<text x="1727.2" y="239.85">6.00</text>
<text x="1727.2" y="295.4">5.50</text>
<text x="1727.2" y="350.85">5.00</text>
<text x="1727.2" y="406.55">4.50</text>
<text x="1727.2" y="517.75">3.50</text>
<text x="1727.2" y="571.65">3.00</text>
<text x="1727.2" y="683.25">2.00</text>
</g>
<text x="198.77" y="709.1" text-anchor="middle" font-size="17.1" stroke="#50535e" stroke-width="0.4">Jul</text>
<text x="407.44" y="709.1" text-anchor="middle" font-size="17.1" stroke="#50535e" stroke-width="0.4">Aug</text>
<text x="605.41" y="709.1" text-anchor="middle" font-size="17.1" stroke="#50535e" stroke-width="0.4">Sep</text>
<text x="794.46" y="709.1" text-anchor="middle" font-size="17.1" stroke="#50535e" stroke-width="0.4">Okt</text>
<text x="1001.34" y="709.1" text-anchor="middle" font-size="17.1" stroke="#50535e" stroke-width="0.4">Nov</text>
<text x="1199.31" y="709.1" text-anchor="middle" font-size="17.1" stroke="#50535e" stroke-width="0.4">Dez</text>
<text x="1388.66" y="709.1" text-anchor="middle" font-size="17.4" letter-spacing="1" stroke="#50535e" stroke-width="0.75">2020</text>
<text x="1595.25" y="709.1" text-anchor="middle" font-size="17.1" stroke="#50535e" stroke-width="0.4">Feb</text>
<clipPath id="jun"><rect x="11" y="680" width="60" height="40"/></clipPath>
<text x="8.6" y="709.1" text-anchor="middle" font-size="17.4" stroke="#50535e" stroke-width="0.4" clip-path="url(#jun)">Jun</text>
</g>
<rect x="1713.7" y="448.7" width="58.4" height="26.5" fill="#2196f3"/>
<rect x="1713.7" y="606.6" width="58.4" height="26.5" fill="#26a69a"/>
<rect x="1714.7" y="462.2" width="4.5" height="1" fill="#fff" opacity=".6"/><rect x="1714.7" y="619.6" width="4.5" height="1" fill="#fff" opacity=".6"/>
<g font-family="Liberation Sans, sans-serif" font-size="17.9" fill="#fff" stroke="#fff" stroke-width="0.35">
<text x="1727.2" y="468.9">3.93</text><text x="1727.2" y="626.6">2.51</text></g>
<path d="M10 65 H1773.1 V720.8 H10 Z" fill="none" stroke="#3e414e" stroke-width="2"/>
<g font-family="Liberation Mono, monospace" font-size="18.375" fill="#2e3037">
<text transform="translate(8.6 28.2) scale(1 1.12)">Katzenpirat veröffentlicht auf TradingView.com, Februar 06, 2020 01:45:37 CET</text>
<text transform="translate(8.6 52.3) scale(1 1.12)">TSX_DLY:TMR, 1D</text>
<text transform="translate(181.6 52.3) scale(1 1.12)">2.51</text>
<text transform="translate(229.6 52.3) scale(1 1.12)">0.00 (0%)</text>
<text transform="translate(335.2 52.3) scale(1 1.12)">O:2.51</text>
<text transform="translate(408.8 52.3) scale(1 1.12)">H:2.53</text>
<text transform="translate(483.2 52.3) scale(1 1.12)">L:2.47</text>
<text transform="translate(557.8 52.3) scale(1 1.12)">C:2.51</text>
</g>
<g fill="#2196f3"><circle cx="25.4" cy="746.1" r="8.4"/><circle cx="15.9" cy="753" r="7"/><circle cx="38.4" cy="749.6" r="5.6"/><circle cx="42.4" cy="754.3" r="5.7"/><rect x="15.9" y="748" width="26.5" height="12"/></g>
<path d="M10.6 756.9 L23.8 746.7 L33 754.5 L43.2 745.2" fill="none" stroke="#fff" stroke-width="1.3"/>
<circle cx="23.8" cy="746.7" r="3" fill="#fff"/><circle cx="33" cy="754.5" r="3" fill="#fff"/>
<text x="51" y="755" font-family="Liberation Sans, sans-serif" font-size="18.4" fill="#1c2030" textLength="104.2" lengthAdjust="spacingAndGlyphs">TradingView</text>
</svg></body></html>
